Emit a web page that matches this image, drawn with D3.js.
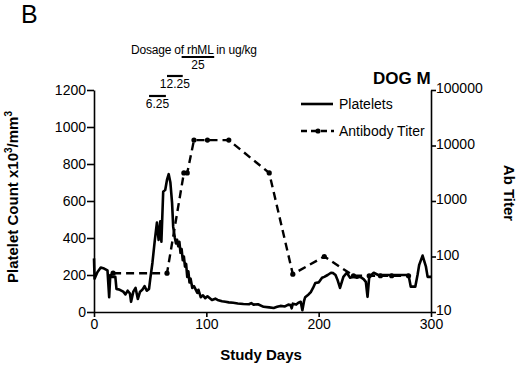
<!DOCTYPE html>
<html>
<head>
<meta charset="utf-8">
<script src="https://cdn.jsdelivr.net/npm/d3@7"></script>
<style>
    body { margin: 0; background: #fff; }
    svg { display: block; font-family: "Liberation Sans", Arial, sans-serif; }
</style>
</head>
<body>
<script>
// platelet counts (x10^3/mm^3) by study day
const plateletDays = [0, 0.5, 3, 6, 9, 12, 13.5, 14.5, 16, 19, 20, 23, 26, 28, 30, 32, 33, 35, 37, 39,
    41, 43, 45, 47, 49, 50, 52, 54, 56, 57.5, 59, 60, 61.6, 63.4, 65, 66.5, 68, 69.5, 70.5, 72,
    73, 74, 75, 76, 77, 78, 79, 80, 81, 82, 83, 84, 85, 86, 87.5, 89, 92, 93, 95, 97,
    99, 101, 105, 108, 110, 114, 117, 120, 124, 128, 133, 138, 140, 142, 146, 151, 156, 160, 163, 166,
    170, 173, 175, 176, 177, 180, 182, 184, 185.5, 187, 188, 191, 193, 195, 197, 200, 203, 205, 208, 211,
    213, 215, 217, 219, 222, 225, 228, 231, 234, 237, 240, 242, 243.5, 245, 249, 253, 258, 265, 270, 275,
    280, 282, 286, 288, 289.5, 292.5, 295.5, 297, 300];
const plateletCounts = [290, 180, 215, 240, 235, 225, 80, 200, 190, 190, 125, 120, 110, 95, 115, 100, 55, 110, 130, 70,
    110, 120, 140, 115, 125, 175, 265, 380, 483, 390, 490, 380, 650, 660, 715, 745, 700, 590, 460, 400,
    370, 390, 355, 380, 320, 340, 280, 300, 245, 260, 190, 220, 160, 180, 130, 140, 103, 120, 80, 90,
    75, 85, 65, 72, 65, 58, 55, 52, 50, 46, 43, 42, 48, 40, 42, 28, 25, 22, 28, 33,
    30, 40, 38, 20, 45, 40, 50, 55, 10, 60, 80, 95, 108, 130, 157, 160, 185, 190, 200, 212,
    210, 200, 170, 130, 190, 212, 185, 190, 185, 190, 178, 163, 82, 190, 212, 200, 200, 200, 200, 200,
    200, 137, 137, 200, 255, 305, 245, 190, 190];

// antibody titer by study day
const titerDays = [17, 65, 80, 83, 89, 101, 120, 156, 177, 205, 231, 245, 255, 265, 280];
const titerValues = [50, 50, 3200, 3200, 12500, 12500, 12500, 3200, 48, 100, 45, 45, 45, 45, 45];

// rhML dosing periods
const doseLabels = ["6.25", "12.25", "25"];
const doseStart = [49, 65, 78];
const doseEnd = [64, 79, 107];

const leftTicks = [0, 200, 400, 600, 800, 1000, 1200];
const rightTicks = [10, 100, 1000, 10000, 100000];
const dayTicks = [0, 100, 200, 300];

const width = 520;
const height = 365;
const plotLeft = 94, plotRight = 431, plotTop = 90, plotBottom = 312;

const svg = d3.select("body").append("svg")
    .attr("width", width)
    .attr("height", height);

const x = d3.scaleLinear().domain([0, 300]).range([plotLeft, plotRight]);
const yLeft = d3.scaleLinear().domain([0, 1200]).range([plotBottom, plotTop]);
const yRight = d3.scaleLog().domain([10, 100000]).range([plotBottom, plotTop]);

function styleAxis(g) {
    g.selectAll("path, line").attr("stroke", "#000").attr("stroke-width", 1.6);
    g.selectAll("text").attr("font-size", 14).attr("font-family", "Liberation Sans, Arial, sans-serif").attr("fill", "#000");
}

svg.append("g")
    .attr("transform", `translate(${plotLeft},0)`)
    .call(d3.axisLeft(yLeft).tickValues(leftTicks).tickFormat(d3.format("d")).tickSize(7).tickSizeOuter(0).tickPadding(1))
    .call(styleAxis);

svg.append("g")
    .attr("transform", `translate(${plotRight},0)`)
    .call(d3.axisRight(yRight).tickValues(rightTicks).tickFormat(d3.format("d")).tickSize(5).tickSizeOuter(0).tickPadding(0))
    .call(styleAxis)
    .call(g => g.selectAll("text").attr("dy", "0.2em"));

svg.append("g")
    .attr("transform", `translate(0,${plotBottom})`)
    .call(d3.axisBottom(x).tickValues(dayTicks).tickSize(5).tickSizeOuter(0).tickPadding(2))
    .call(styleAxis);

// platelets
const platelets = plateletDays.map((d, i) => ({ day: d, value: plateletCounts[i] }));
svg.append("path")
    .datum(platelets)
    .attr("fill", "none")
    .attr("stroke", "#000")
    .attr("stroke-width", 2.6)
    .attr("stroke-linejoin", "round")
    .attr("d", d3.line().x(d => x(d.day)).y(d => yLeft(d.value)));

// antibody titer
const titer = titerDays.map((d, i) => ({ day: d, value: titerValues[i] }));
svg.append("path")
    .datum(titer)
    .attr("fill", "none")
    .attr("stroke", "#000")
    .attr("stroke-width", 2.4)
    .attr("stroke-dasharray", "8,5")
    .attr("d", d3.line().x(d => x(d.day)).y(d => yRight(d.value)));

svg.append("g")
    .selectAll("circle")
    .data(titer)
    .join("circle")
    .attr("cx", d => x(d.day))
    .attr("cy", d => yRight(d.value))
    .attr("r", 2.6)
    .attr("fill", "#000");

// dosage bars
const barY = [96, 76, 57];
const labelY = [108, 88, 69];
const doses = doseLabels.map((d, i) => ({ label: d, start: doseStart[i], end: doseEnd[i], y: barY[i], ly: labelY[i] }));

svg.append("g")
    .selectAll("line")
    .data(doses)
    .join("line")
    .attr("x1", d => x(d.start))
    .attr("x2", d => x(d.end))
    .attr("y1", d => d.y)
    .attr("y2", d => d.y)
    .attr("stroke", "#000")
    .attr("stroke-width", 2.2);

svg.append("g")
    .selectAll("text")
    .data(doses)
    .join("text")
    .attr("x", d => (x(d.start) + x(d.end)) / 2)
    .attr("y", d => d.ly)
    .attr("text-anchor", "middle")
    .attr("font-size", 12)
    .text(d => d.label);

svg.append("text")
    .attr("x", 131)
    .attr("y", 54)
    .attr("font-size", 12)
    .attr("textLength", 126)
    .text("Dosage of rhML in ug/kg");

// titles and labels
svg.append("text")
    .attr("x", 21)
    .attr("y", 23)
    .attr("font-size", 25)
    .text("B");

svg.append("text")
    .attr("x", 373)
    .attr("y", 84)
    .attr("font-size", 17)
    .attr("font-weight", "bold")
    .text("DOG M");

svg.append("text")
    .attr("transform", "translate(18,197) rotate(-90)")
    .attr("text-anchor", "middle")
    .attr("font-size", 15)
    .attr("font-weight", "bold")
    .call(t => t.append("tspan").text("Platelet Count x10"))
    .call(t => t.append("tspan").attr("font-size", 10).attr("dy", -6).text("3"))
    .call(t => t.append("tspan").attr("dy", 6).text("/mm"))
    .call(t => t.append("tspan").attr("font-size", 10).attr("dy", -6).text("3"));

svg.append("text")
    .attr("transform", "translate(504,193) rotate(90)")
    .attr("text-anchor", "middle")
    .attr("font-size", 15)
    .attr("font-weight", "bold")
    .text("Ab Titer");

svg.append("text")
    .attr("x", 261)
    .attr("y", 360)
    .attr("text-anchor", "middle")
    .attr("font-size", 15)
    .attr("font-weight", "bold")
    .text("Study Days");

// legend
const legend = svg.append("g");
legend.append("line")
    .attr("x1", 301).attr("x2", 333)
    .attr("y1", 104).attr("y2", 104)
    .attr("stroke", "#000").attr("stroke-width", 2.6);
legend.append("text")
    .attr("x", 339).attr("y", 109)
    .attr("font-size", 14)
    .text("Platelets");
legend.append("line")
    .attr("x1", 301).attr("x2", 334)
    .attr("y1", 131).attr("y2", 131)
    .attr("stroke", "#000").attr("stroke-width", 2.4)
    .attr("stroke-dasharray", "6,4");
legend.append("circle")
    .attr("cx", 318).attr("cy", 131).attr("r", 2.6);
legend.append("text")
    .attr("x", 339).attr("y", 136)
    .attr("font-size", 14)
    .text("Antibody Titer");
</script>
</body>
</html>
